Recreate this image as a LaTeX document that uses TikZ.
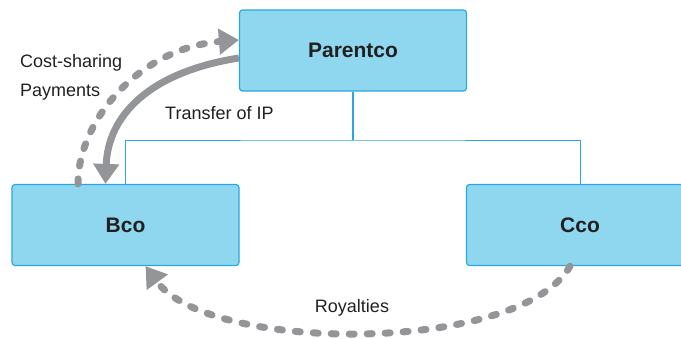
\documentclass[tikz,border=0pt]{standalone}
\usepackage{fontspec}
\setmainfont{Liberation Sans}
\usepackage{xcolor}
\usetikzlibrary{arrows.meta}
\usetikzlibrary{calc}

\definecolor{boxfill}{HTML}{8FD7EF}
\definecolor{boxline}{HTML}{29A8E0}
\definecolor{flowgray}{HTML}{939598}
\definecolor{inkdark}{HTML}{231F20}

\begin{document}
\begin{tikzpicture}[x=1pt, y=-1pt,
        entity/.style={draw=boxline, fill=boxfill, line width=1.2pt, rounded corners=3pt, minimum width=227pt, minimum height=81pt, inner sep=0pt, text=inkdark, font=\fontsize{21}{24}\selectfont\bfseries},
        lbl/.style={inner sep=0pt, text=inkdark, font=\fontsize{18}{21}\selectfont},
        flow/.style={draw=flowgray, line width=7pt, -{Triangle[length=20pt, width=25pt]}},
        dashflow/.style={flow, line cap=round, dash pattern=on 5pt off 13pt}]
    \useasboundingbox (0, 0) rectangle (681, 338);
    \clip (0, 0) rectangle (681, 338);

    \node[entity] (parentco) at (353, 50.5) {Parentco};
    \node[entity] (bco) at (125.5, 225) {Bco};
    \node[entity] (cco) at (580, 225) {Cco};

    % ownership lines
    \coordinate (bus) at (353, 140);
    \draw[boxline, line width=2pt] (parentco.south) -- (bus);
    \draw[boxline, line width=1pt] (bco.north) |- (bus) -| (cco.north);

    \draw[flow] ([yshift=-7.5pt]parentco.west) .. controls (150, 72) and (108, 115) .. ([xshift=-20pt]bco.north);
    \draw[dashflow] ([xshift=-47.5pt]bco.north) .. controls (78, 120) and (140, 48) .. ([yshift=10.5pt]parentco.west);
    \draw[dashflow] ([xshift=-10pt]cco.south) .. controls (520, 354) and (210, 354) .. ([xshift=20pt]bco.south);

    \node[lbl, anchor=base west] (costlbl) at (20, 67) {Cost-sharing};
    \node[lbl, anchor=base west] (paylbl) at (20, 96) {Payments};
    \node[lbl, anchor=base west] (iplbl) at (165, 119) {Transfer of IP};
    \node[lbl, anchor=base] (roylbl) at (352, 312) {Royalties};
\end{tikzpicture}
\end{document}
